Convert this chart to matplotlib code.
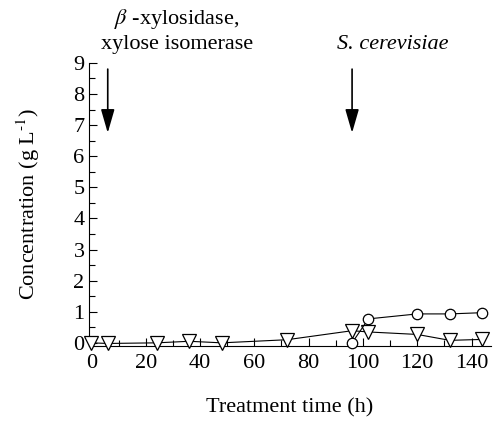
import numpy as np
import matplotlib
matplotlib.use('Agg')
import matplotlib.pyplot as plt
from matplotlib.ticker import MultipleLocator

plt.rcParams['font.family'] = ['Liberation Serif', 'DejaVu Serif']
plt.rcParams['mathtext.fontset'] = 'stix'
plt.rcParams['font.size'] = 16

# data
t_tri = [0, 6, 24, 36, 48, 72, 96, 102, 120, 132, 144]
c_tri = [0.0, -0.02, 0.0, 0.05, 0.0, 0.1, 0.39, 0.35, 0.27, 0.08, 0.11]
t_circ = [96, 102, 120, 132, 144]
c_circ = [0.0, 0.77, 0.93, 0.93, 0.97]

arrow_t = [6, 96]
arrow_labels = ['$\\beta$ -xylosidase,\nxylose isomerase', 'S. cerevisiae']
label_t = [31.5, 111]

fig = plt.figure(figsize=(4.93, 4.25), dpi=100)
ax = fig.add_axes([0.18, 0.186, 0.815, 0.666])

ax.plot(t_tri, c_tri, color='black', lw=0.8, marker='v', ms=9.5,
        mfc='white', mec='black', mew=0.9, clip_on=False, zorder=3)
ax.plot(t_circ, c_circ, color='black', lw=0.8, marker='o', ms=7.5,
        mfc='white', mec='black', mew=0.9, clip_on=False, zorder=4)

for t in arrow_t:
    ax.annotate('', xy=(t, 6.75), xytext=(t, 8.8),
                arrowprops=dict(arrowstyle='-|>,head_length=0.9,head_width=0.26',
                                color='black', lw=1.2, shrinkA=0, shrinkB=0))

ax.text(label_t[0], 10.05, arrow_labels[0], ha='center', va='center',
        linespacing=1.3, clip_on=False)
ax.text(label_t[1], 9.6, arrow_labels[1], ha='center', va='center',
        style='italic', clip_on=False)

ax.set_xlim(-1, 147)
ax.set_ylim(-0.1, 9)
ax.xaxis.set_minor_locator(MultipleLocator(10))
ax.yaxis.set_major_locator(MultipleLocator(1))
ax.yaxis.set_minor_locator(MultipleLocator(0.5))
ax.set_xticks(np.arange(0, 141, 20))
ax.tick_params(which='both', direction='in', width=0.8)
ax.tick_params(which='major', length=6, pad=3)
ax.tick_params(axis='x', which='major', pad=6)
ax.tick_params(which='minor', length=4)
ax.spines['top'].set_visible(False)
ax.spines['right'].set_visible(False)

ax.set_xlabel('Treatment time (h)', labelpad=18)
ax.set_ylabel('Concentration (g L$^{\\text{-1}}$)', labelpad=23)

fig.savefig('out.png', dpi=100)
